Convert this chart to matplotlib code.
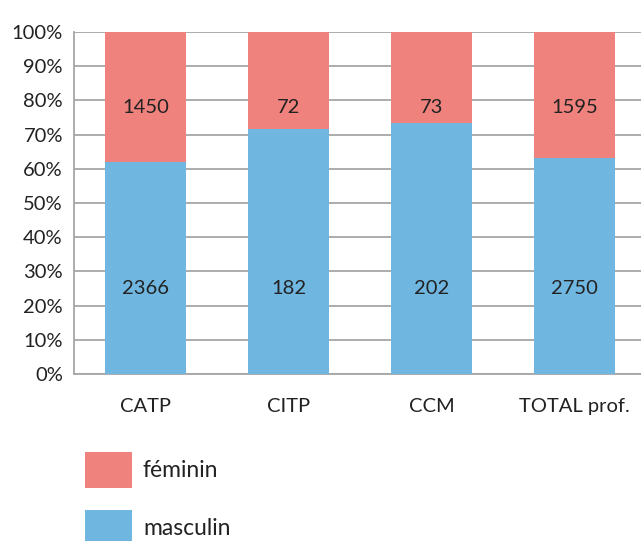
import matplotlib
matplotlib.use("Agg")
import matplotlib.pyplot as plt
import numpy as np
from matplotlib.patches import Patch

categories = ["CATP", "CITP", "CCM", "TOTAL prof."]
masculin = [2366, 182, 202, 2750]
feminin = [1450, 72, 73, 1595]
yticklabels = ["0%", "10%", "20%", "30%", "40%", "50%", "60%", "70%", "80%", "90%", "100%"]

c_fem = "#F0827D"
c_mas = "#6FB7E1"
txt = "#222222"
grid = "#A6A6A6"

plt.rcParams['font.family'] = ['Lato', 'DejaVu Sans']

fig = plt.figure(figsize=(6.41, 5.41), dpi=100)
ax = fig.add_axes([74/641, 167/541, (646 - 74)/641, 342/541])

m = np.array(masculin, dtype=float)
f = np.array(feminin, dtype=float)
tot = m + f
mp = m / tot * 100
fp = f / tot * 100
x = np.arange(len(categories))
w = 0.56

ax.bar(x, mp, width=w, color=c_mas, zorder=3)
ax.bar(x, fp, width=w, bottom=mp, color=c_fem, zorder=3)

for i in range(len(categories)):
    ax.text(x[i], 25, str(masculin[i]), ha='center', va='center', fontsize=14.5, color=txt, zorder=4)
    ax.text(x[i], 78, str(feminin[i]), ha='center', va='center', fontsize=14.5, color=txt, zorder=4)

ax.set_xlim(-0.5, 3.5)
ax.set_ylim(0, 100)
ax.set_yticks(np.arange(0, 101, 10))
ax.set_yticklabels(yticklabels)
ax.set_xticks(x)
ax.set_xticklabels(categories)
ax.tick_params(axis='both', length=0, labelsize=14.5, colors=txt)
ax.tick_params(axis='y', pad=8)
ax.tick_params(axis='x', pad=17)
ax.yaxis.grid(True, color=grid, linewidth=1.3, zorder=0)
for s in ['top', 'right']:
    ax.spines[s].set_visible(False)
for s in ['left', 'bottom']:
    ax.spines[s].set_color(grid)
    ax.spines[s].set_linewidth(1.3)

handles = [Patch(facecolor=c_fem), Patch(facecolor=c_mas)]
fig.legend(handles, ["féminin", "masculin"], loc='upper left',
           bbox_to_anchor=(85/641, 1 - 452/541), frameon=False,
           borderpad=0, borderaxespad=0, handlelength=2.05, handleheight=2.04,
           handletextpad=0.48, labelspacing=0.95, fontsize=16.5, labelcolor=txt)

fig.savefig("out.png", dpi=100)
